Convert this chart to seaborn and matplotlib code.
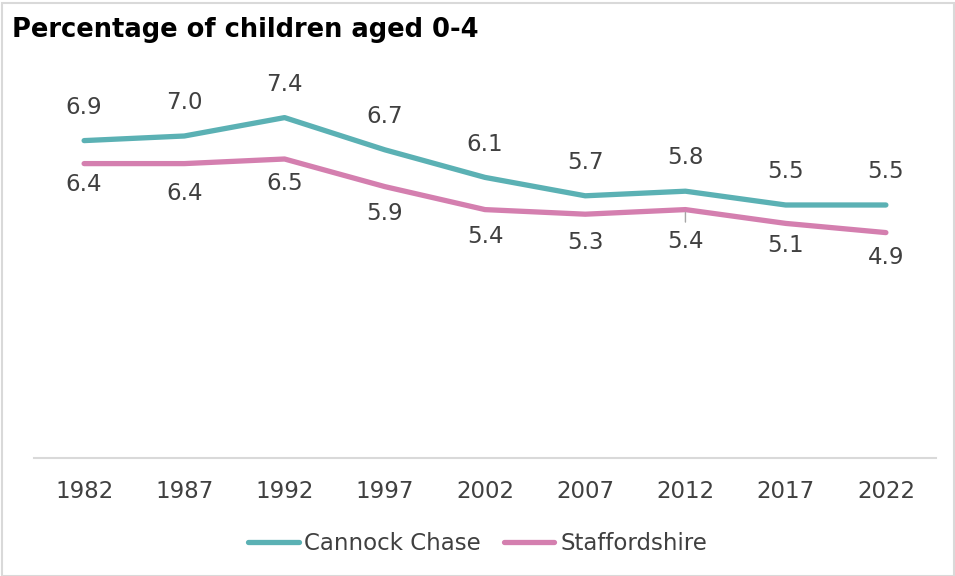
import pandas as pd
import matplotlib.pyplot as plt
import seaborn as sns
from matplotlib.patches import Rectangle

# --- data ---
years = ["1982", "1987", "1992", "1997", "2002", "2007", "2012", "2017", "2022"]
cannock = [6.9, 7.0, 7.4, 6.7, 6.1, 5.7, 5.8, 5.5, 5.5]
staffs = [6.4, 6.4, 6.5, 5.9, 5.4, 5.3, 5.4, 5.1, 4.9]
series_names = ["Cannock Chase", "Staffordshire"]

df = pd.DataFrame({
    "year": years * 2,
    "pct": cannock + staffs,
    "area": [series_names[0]] * len(years) + [series_names[1]] * len(years),
})

colors = {"Cannock Chase": "#5BB1B4", "Staffordshire": "#D47FAF"}
text_col = "#404040"

sns.set_theme(style="white")
plt.rcParams["font.family"] = ["DejaVu Sans"]

fig = plt.figure(figsize=(9.55, 5.76), dpi=100)
ax = fig.add_axes([34 / 955, 1 - 458 / 576, 902 / 955, 368 / 576])

sns.lineplot(data=df, x="year", y="pct", hue="area", palette=colors,
             sort=False, linewidth=3.8, ax=ax, legend=True)
for ln in ax.lines:
    ln.set_solid_capstyle("round")
    ln.set_solid_joinstyle("round")

ax.set_xlim(-0.5, len(years) - 0.5)
ax.set_ylim(0, 8)

# data labels: Cannock above, Staffordshire below (small nudges like the original)
staffs_dy = [-21, -30, -25, -27, -27, -28, -32, -22, -25]
for i, v in enumerate(cannock):
    ax.annotate(f"{v:.1f}", (i, v), xytext=(0, 24), textcoords="offset points",
                ha="center", va="center", fontsize=16.5, color=text_col)
for i, v in enumerate(staffs):
    ax.annotate(f"{v:.1f}", (i, v), xytext=(0, staffs_dy[i] / 1.389),
                textcoords="offset points", ha="center", va="center",
                fontsize=16.5, color=text_col)
# leader line on the 2012 label
ax.annotate("", (6, staffs[6]), xytext=(0, -11), textcoords="offset points",
            arrowprops=dict(arrowstyle="-", color="#A6A6A6", lw=1))

# axes styling
for s in ["top", "right", "left"]:
    ax.spines[s].set_visible(False)
ax.spines["bottom"].set_color("#D9D9D9")
ax.spines["bottom"].set_linewidth(1.5)
ax.set_yticks([])
ax.set_xlabel("")
ax.set_ylabel("")
ax.tick_params(axis="x", length=0, pad=16, labelsize=16.5, labelcolor=text_col)

# legend
ax.get_legend().remove()
handles, labels = ax.get_legend_handles_labels()
for h in handles:
    h.set_linewidth(3.8)
    h.set_solid_capstyle("round")
fig.legend(handles, labels, loc="center", bbox_to_anchor=(0.5, 1 - 544 / 576),
           ncol=2, frameon=False, fontsize=16.5, handlelength=2.2,
           handletextpad=0.25, columnspacing=1.0, labelcolor=text_col)

# title
fig.text(12 / 955, 1 - 30 / 576, "Percentage of children aged 0-4",
         fontsize=18.5, fontweight="bold", color="black", ha="left", va="center")

# chart border
fig.patches.append(Rectangle((2 / 955, 0), 1 - 3 / 955, 1 - 3 / 576,
                             transform=fig.transFigure, fill=False,
                             edgecolor="#D9D9D9", linewidth=1.5))

fig.savefig("out.png", dpi=100)
